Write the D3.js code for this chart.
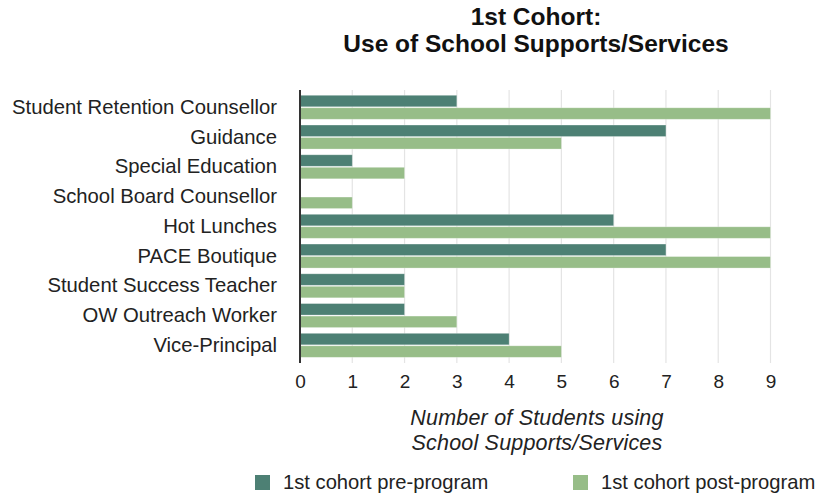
<!DOCTYPE html>
<html><head><meta charset="utf-8">
<script src="https://cdn.jsdelivr.net/npm/d3@7"></script>
<style>html,body{margin:0;padding:0;background:#fff;}svg{display:block;font-family:"Liberation Sans",Arial,Helvetica,sans-serif;}</style>
</head><body>
<script>
const categories = ["Student Retention Counsellor","Guidance ","Special Education","School Board Counsellor","Hot Lunches","PACE Boutique","Student Success Teacher","OW Outreach Worker","Vice-Principal"];
const preProgram = [3,7,1,0,6,7,2,2,4];
const postProgram = [9,5,2,1,9,9,2,3,5];
const seriesNames = ["1st cohort pre-program","1st cohort post-program"];
const tickValues = [0,1,2,3,4,5,6,7,8,9];
const titleLines = ["1st Cohort:","Use of School Supports/Services"];
const axisTitleLines = ["Number of Students using","School Supports/Services"];
const colors = ["#4d8074","#97bd88"];

const W=817,H=494;
const svg=d3.select("body").append("svg").attr("width",W).attr("height",H);
const x=d3.scaleLinear().domain([0,9]).range([300,770.5]);
const y=d3.scaleBand().domain(categories).range([92.4,360.2]).paddingInner(0.193).paddingOuter(0.0966);
const keys=["pre","post"];
const yi=d3.scaleBand().domain(keys).range([0,y.bandwidth()]).paddingInner(0.08);
const data=categories.map((c,i)=>({cat:c,pre:preProgram[i],post:postProgram[i]}));

// gridlines
svg.append("g").selectAll("line").data(tickValues.slice(1)).join("line")
 .attr("x1",d=>x(d)).attr("x2",d=>x(d)).attr("y1",90).attr("y2",363)
 .attr("stroke","#e4e4e4").attr("stroke-width",1.2);

// bars
const g=svg.append("g");
data.forEach(d=>{
  keys.forEach((k,ki)=>{
    if(d[k]>0) g.append("rect").attr("x",x(0)).attr("y",y(d.cat)+yi(k))
      .attr("width",x(d[k])-x(0)).attr("height",yi.bandwidth())
      .attr("fill",colors[ki]).attr("stroke","rgba(255,255,255,0.35)").attr("stroke-width",0.8);
  });
});

// axis line
svg.append("line").attr("x1",x(0)).attr("x2",x(0)).attr("y1",90).attr("y2",363).attr("stroke","#333").attr("stroke-width",2);

// x axis
const xAxis=d3.axisBottom(x).tickValues(tickValues).tickSize(0).tickPadding(0).tickFormat(d3.format("d"));
const xa=svg.append("g").attr("transform","translate(0,388)").call(xAxis);
xa.select(".domain").remove();
xa.selectAll("text").attr("dy",0).attr("fill","#222").style("font-size","19px").style("font-family","'Liberation Sans',Arial,sans-serif");

// y axis
const yAxis=d3.axisLeft(y).tickSize(0).tickPadding(0);
const ya=svg.append("g").attr("transform","translate(277,0)").call(yAxis);
ya.select(".domain").remove();
ya.selectAll("text").attr("dy","0.32em").attr("fill","#222").style("font-size","20.3px").style("font-family","'Liberation Sans',Arial,sans-serif");

// title
svg.append("g").selectAll("text").data(titleLines).join("text")
 .attr("x",536).attr("y",(d,i)=>24.5+i*27.5).attr("text-anchor","middle")
 .attr("font-weight","bold").attr("font-size","24.5px").attr("fill","#111").text(d=>d);

// axis title
svg.append("g").selectAll("text").data(axisTitleLines).join("text")
 .attr("x",537).attr("y",(d,i)=>425+i*25).attr("text-anchor","middle")
 .attr("font-style","italic").attr("font-size","21.5px").attr("letter-spacing","0.2px").attr("fill","#222").text(d=>d);

// legend
const legX=[255,573];
const lg=svg.append("g").selectAll("g").data(seriesNames).join("g").attr("transform",(d,i)=>`translate(${legX[i]},0)`);
lg.append("rect").attr("x",0).attr("y",475).attr("width",15).attr("height",15).attr("fill",(d,i)=>colors[i]);
lg.append("text").attr("x",28).attr("y",489).attr("font-size","20.2px").attr("fill","#222").text(d=>d);
</script>
</body></html>
